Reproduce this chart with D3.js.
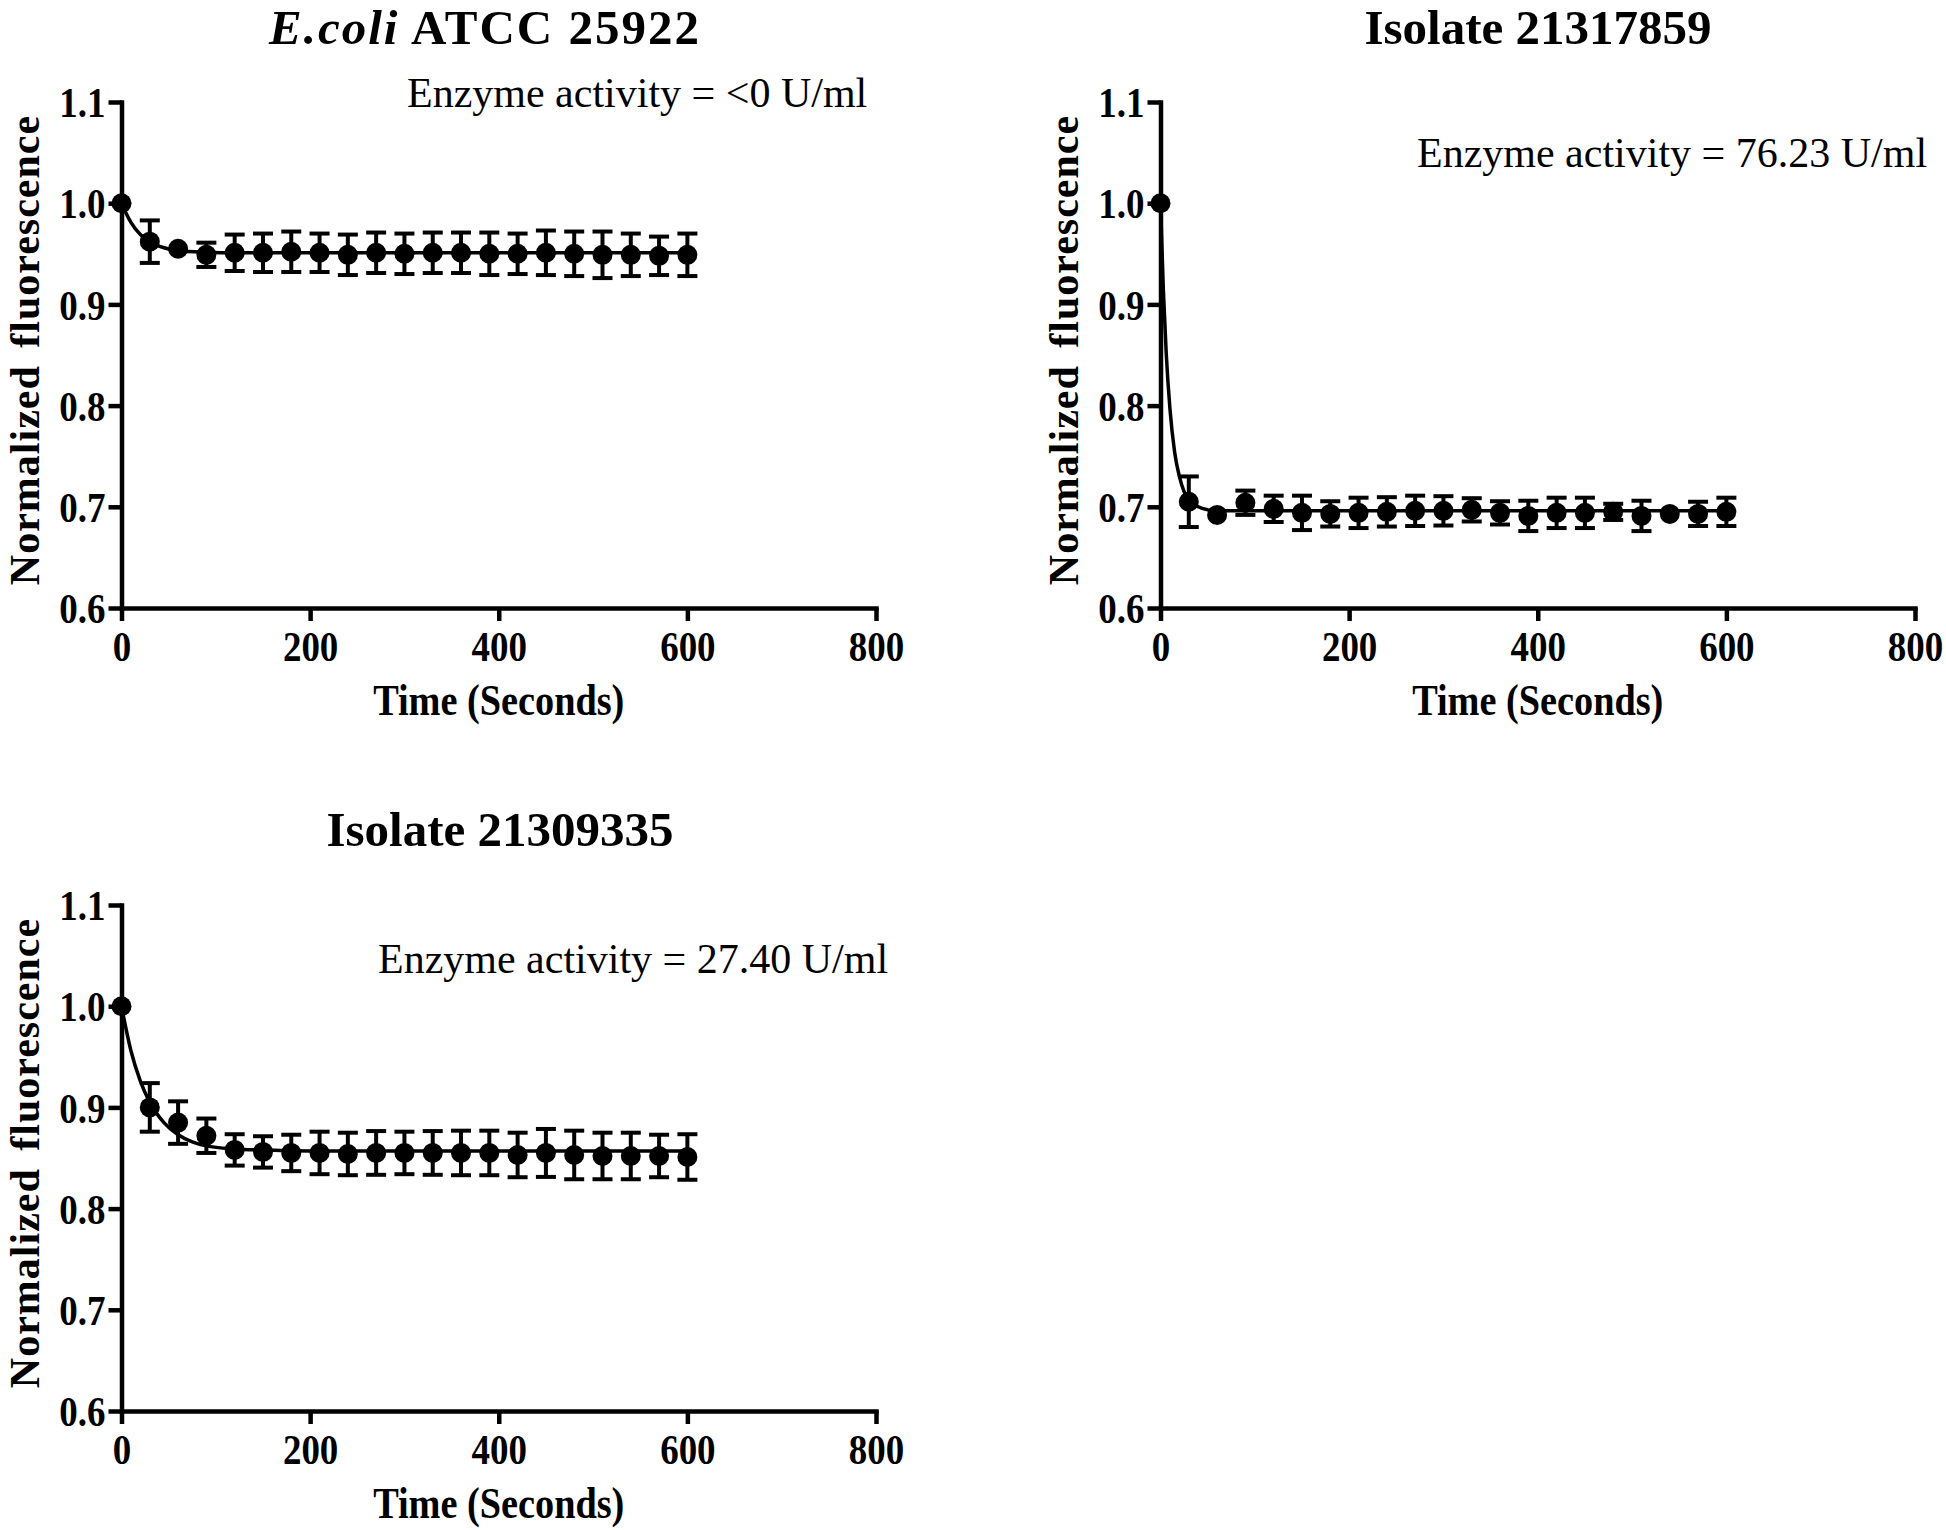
<!DOCTYPE html>
<html>
<head>
<meta charset="utf-8">
<script src="https://cdn.jsdelivr.net/npm/d3@7"></script>
<style>
  html, body { margin: 0; padding: 0; background: #fff; }
  svg { display: block; }
  text { font-family: "Liberation Serif", "Times New Roman", serif; fill: #000; }
</style>
</head>
<body>
<svg id="chart" width="1946" height="1530"></svg>
<script>
// ---------- data ----------
const timeSec = [0,30,60,90,120,150,180,210,240,270,300,330,360,390,420,450,480,510,540,570,600];

const ecoliMean = [1.000,0.962,0.955,0.949,0.951,0.951,0.952,0.951,0.949,0.951,0.950,0.951,0.951,0.950,0.950,0.951,0.950,0.949,0.949,0.948,0.949];
const ecoliSD   = [0,0.021,0,0.012,0.018,0.019,0.020,0.019,0.020,0.020,0.020,0.020,0.020,0.021,0.020,0.022,0.022,0.023,0.021,0.019,0.021];
const ecoliFitT = [0,10,20,30,45,60,90,120,600];
const ecoliFitY = [1.000,0.981,0.969,0.962,0.956,0.953,0.9515,0.951,0.951];

const iso859Mean = [1.000,0.705,0.692,0.704,0.698,0.694,0.693,0.694,0.695,0.696,0.696,0.697,0.694,0.691,0.694,0.694,0.695,0.691,0.693,0.693,0.695];
const iso859SD   = [0,0.025,0,0.012,0.013,0.017,0.0125,0.015,0.0145,0.015,0.0145,0.0115,0.0115,0.015,0.015,0.015,0.008,0.015,0,0.012,0.014];
const iso859FitT = [0,3,6,10,15,20,25,30,40,50,60,600];
const iso859FitY = [1.000,0.915,0.853,0.797,0.754,0.730,0.715,0.707,0.700,0.697,0.696,0.696];

const iso335Mean = [1.000,0.900,0.885,0.872,0.858,0.856,0.855,0.855,0.854,0.855,0.855,0.855,0.855,0.855,0.853,0.855,0.853,0.852,0.852,0.852,0.851];
const iso335SD   = [0,0.024,0.021,0.017,0.0155,0.0155,0.018,0.021,0.021,0.0216,0.021,0.0216,0.022,0.022,0.022,0.0237,0.024,0.023,0.023,0.021,0.0225];
const iso335FitT = [0,10,20,30,45,60,75,90,120,150,200,600];
const iso335FitY = [1.000,0.956,0.926,0.905,0.885,0.873,0.866,0.862,0.859,0.858,0.857,0.857];

const xTicks = [0,200,400,600,800];
const yTicks = [0.6,0.7,0.8,0.9,1.0,1.1];
const xDomain = [0,800];
const yDomain = [0.6,1.1];

const titleItalic = ["E.coli", "", ""];
const titleRest   = [" ATCC 25922", "Isolate 21317859", "Isolate 21309335"];
const activityLabels = ["Enzyme activity = <0 U/ml", "Enzyme activity = 76.23 U/ml", "Enzyme activity = 27.40 U/ml"];
const xLabel = "Time (Seconds)";
const yLabel = "Normalized fluorescence";

// ---------- layout ----------
const layouts = [
  { left: 121.5, right: 876,  top: 102, bottom: 608,  titleX: 485,  titleY: 44,  titleLS: 2, annX: 407,  annY: 107 },
  { left: 1160.5, right: 1915, top: 102, bottom: 608, titleX: 1538, titleY: 44,  titleLS: 0, annX: 1417, annY: 167 },
  { left: 121.5, right: 876,  top: 905, bottom: 1411, titleX: 500,  titleY: 846, titleLS: 0, annX: 378,  annY: 973 }
];
const panelsData = [
  { mean: ecoliMean,  sd: ecoliSD,  fitT: ecoliFitT,  fitY: ecoliFitY },
  { mean: iso859Mean, sd: iso859SD, fitT: iso859FitT, fitY: iso859FitY },
  { mean: iso335Mean, sd: iso335SD, fitT: iso335FitT, fitY: iso335FitY }
];

const svg = d3.select("#chart");
const AXW = 4.5;
const SX = 0.88; // horizontal condensing of tick / axis-title glyphs

panelsData.forEach((pd, i) => {
  const L = layouts[i];
  const x = d3.scaleLinear().domain(xDomain).range([L.left, L.right]);
  const y = d3.scaleLinear().domain(yDomain).range([L.bottom, L.top]);
  const g = svg.append("g");

  // title
  const t = g.append("text")
    .attr("x", L.titleX).attr("y", L.titleY)
    .attr("text-anchor", "middle")
    .style("font-size", "49px").style("font-weight", "bold")
    .style("letter-spacing", L.titleLS + "px");
  if (titleItalic[i]) t.append("tspan").style("font-style", "italic").text(titleItalic[i]);
  t.append("tspan").text(titleRest[i]);

  // axes
  const xAxis = d3.axisBottom(x).tickValues(xTicks).tickSize(13).tickSizeOuter(0).tickPadding(10)
    .tickFormat(d3.format("d"));
  const yAxis = d3.axisLeft(y).tickValues(yTicks).tickSize(13).tickSizeOuter(0).tickPadding(3)
    .tickFormat(d3.format(".1f"));

  const gx = g.append("g").attr("transform", `translate(0,${L.bottom})`).call(xAxis);
  const gy = g.append("g").attr("transform", `translate(${L.left},0)`).call(yAxis);
  [gx, gy].forEach(a => {
    a.select(".domain").attr("stroke", "#000").attr("stroke-width", AXW).attr("stroke-linecap", "square");
    a.selectAll(".tick line").attr("stroke", "#000").attr("stroke-width", AXW);
    a.selectAll(".tick text").style("font-family", "'Liberation Serif', serif")
      .style("font-size", "42px").style("font-weight", "bold").attr("fill", "#000")
      .attr("transform", `scale(${SX},1)`);
  });
  gx.selectAll(".tick text").attr("dy", "0.71em");
  gy.selectAll(".tick text").attr("dy", "0.35em").attr("x", -16 / SX);

  // axis labels
  const cx = (L.left + L.right) / 2;
  g.append("text")
    .attr("transform", `translate(${cx},${L.bottom + 107}) scale(0.87,1)`)
    .attr("text-anchor", "middle")
    .style("font-size", "44px").style("font-weight", "bold")
    .text(xLabel);
  g.append("text")
    .attr("transform", `translate(${L.left - 83},${(L.top + L.bottom) / 2 - 5}) rotate(-90)`)
    .attr("text-anchor", "middle")
    .style("font-size", "42px").style("font-weight", "bold")
    .style("letter-spacing", "1px")
    .style("word-spacing", "6px")
    .text(yLabel);

  // activity annotation
  g.append("text")
    .attr("x", L.annX).attr("y", L.annY)
    .style("font-size", "42px")
    .text(activityLabels[i]);

  // fitted curve
  const fit = pd.fitT.map((tt, k) => [tt, pd.fitY[k]]);
  g.append("path")
    .datum(fit)
    .attr("fill", "none").attr("stroke", "#000").attr("stroke-width", 3.5)
    .attr("d", d3.line().x(d => x(d[0])).y(d => y(d[1])).curve(d3.curveMonotoneX));

  const pts = timeSec.map((tt, k) => ({ t: tt, m: pd.mean[k], s: pd.sd[k] }));

  // error bars
  const eb = g.append("g").attr("stroke", "#000").attr("stroke-width", 4);
  pts.filter(d => d.s > 0).forEach(d => {
    const px = x(d.t), y1 = y(d.m + d.s), y2 = y(d.m - d.s);
    eb.append("line").attr("x1", px).attr("x2", px).attr("y1", y1).attr("y2", y2);
    eb.append("line").attr("x1", px - 10).attr("x2", px + 10).attr("y1", y1).attr("y2", y1);
    eb.append("line").attr("x1", px - 10).attr("x2", px + 10).attr("y1", y2).attr("y2", y2);
  });

  // points
  g.append("g").selectAll("circle").data(pts).join("circle")
    .attr("cx", d => x(d.t)).attr("cy", d => y(d.m)).attr("r", 10).attr("fill", "#000");
});
</script>
</body>
</html>
